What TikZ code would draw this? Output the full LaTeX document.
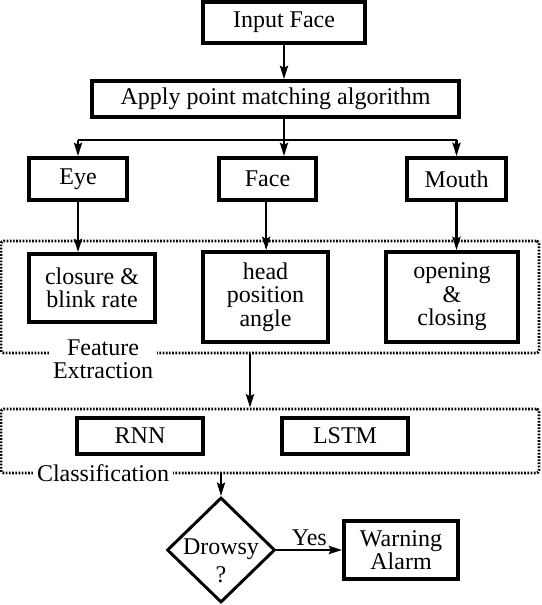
\documentclass[tikz,border=0pt]{standalone}
\usepackage{fontspec}
\setmainfont{Liberation Serif}
\usetikzlibrary{arrows.meta,shapes.geometric}

\begin{document}
\begin{tikzpicture}[x=0.75pt,y=0.75pt,yscale=-1,xscale=1,
        every node/.style={font=\fontsize{18}{17.6}\selectfont, align=center, inner sep=0pt},
        blk/.style={draw, line width=2.7pt},
        grp/.style={draw, line width=2pt, dash pattern={on 1.3pt off 1.1pt}, rounded corners=2pt},
        grplabel/.style={fill=white, inner sep=3pt},
        conn/.style={line width=1.9pt, -{Stealth[length=10pt,width=6pt,inset=1.5pt]}},
        ]
        \useasboundingbox (0,0) rectangle (541,605);

        %Shape: dotted groups
        \node[grp, minimum width=403.5pt, minimum height=84pt] (fe) at (270,297) {};
        \node[grp, minimum width=403.5pt, minimum height=48pt] (cl) at (270,441) {};
        \node[grplabel] (felabel) at (103,359) {Feature\\Extraction};
        \node[grplabel] (cllabel) at (103,473) {Classification};

        %Shape: boxes
        \node[blk, minimum width=121.5pt, minimum height=30.75pt] (input) at (284,22.5) {Input Face};
        \node[blk, minimum width=275.25pt, minimum height=27pt] (apply) at (275.5,99) {Apply point matching algorithm};
        \node[blk, minimum width=73.5pt, minimum height=31.5pt] (eye) at (78,179) {Eye};
        \node[blk, minimum width=72.75pt, minimum height=31.5pt] (face) at (267.5,179) {Face};
        \node[blk, minimum width=74.25pt, minimum height=31.5pt] (mouth) at (456.5,179) {Mouth};
        \node[blk, minimum width=94.5pt, minimum height=51pt] (closure) at (92,288) {closure \&\\blink rate};
        \node[blk, minimum width=93.75pt, minimum height=67.5pt] (head) at (265.5,297) {head\\position\\angle};
        \node[blk, minimum width=99pt, minimum height=67.5pt] (opening) at (452,297) {opening\\\&\\closing};
        \node[blk, minimum width=94.5pt, minimum height=27pt] (rnn) at (140,436) {RNN};
        \node[blk, minimum width=94.5pt, minimum height=27pt] (lstm) at (345,436) {LSTM};
        \node[draw, diamond, line width=2.2pt, minimum width=81pt, minimum height=78.75pt] (drowsy) at (221,550) {};
        \node (drowsytext) at (221,561) {Drowsy\\[3pt]?};
        \node[blk, minimum width=85.5pt, minimum height=43.5pt] (warn) at (401,550) {Warning\\Alarm};

        %Straight Lines
        \draw[conn] (input.south) -- (input.south |- apply.north);
        \draw[line width=1.9pt] (input.south |- apply.south) -- ++(0,21) coordinate (br);
        \draw[line width=1.9pt] (eye |- br) -- (mouth |- br);
        \draw[conn] (eye |- br) -- (eye.north);
        \draw[conn] (br) -- (br |- face.north);
        \draw[conn] (mouth |- br) -- (mouth.north);
        \draw[conn] (eye.south) -- (eye.south |- closure.north);
        \draw[conn] ([xshift=-1pt]face.south) -- ([xshift=-1pt]face.south |- head.north);
        \draw[conn] (mouth.south) -- (mouth.south |- opening.north);
        \draw[conn] ([xshift=-15pt]fe.south) -- ([xshift=-15pt]cl.north);
        \draw[conn] (cl.south -| drowsy.north) -- (drowsy.north);
        \draw[conn] (drowsy.east) -- node[above=2pt] (yes) {Yes} (warn.west);

    \end{tikzpicture}
\end{document}
